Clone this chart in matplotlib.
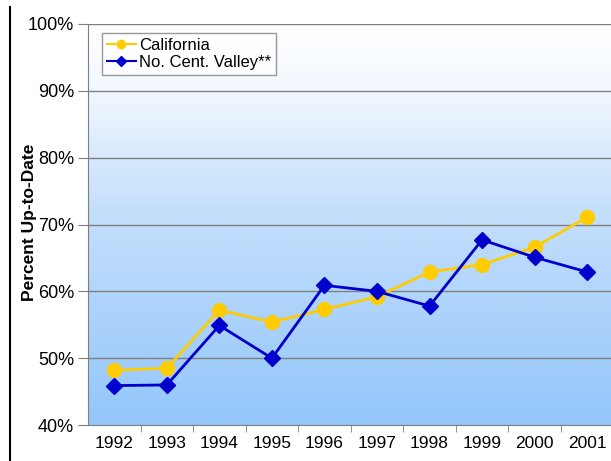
import matplotlib.pyplot as plt
import numpy as np
from matplotlib.colors import LinearSegmentedColormap
from matplotlib.lines import Line2D

plt.rcParams['font.family'] = ['Liberation Sans', 'DejaVu Sans']

years = ['1992', '1993', '1994', '1995', '1996', '1997', '1998', '1999', '2000', '2001']
california = [48.2, 48.5, 57.2, 55.4, 57.3, 59.2, 62.9, 64.0, 66.6, 71.1]
no_cent_valley = [45.9, 46.0, 54.9, 50.0, 60.9, 60.0, 57.8, 67.7, 65.1, 62.9]

fig = plt.figure(figsize=(6.11, 4.61), dpi=100)
ax = fig.add_axes([0.144, 0.078, 0.86, 0.87])

x = np.arange(len(years))
ax.set_xlim(-0.5, len(years) - 0.5)
ax.set_ylim(40, 100)

# background gradient, white at top fading to light blue at the bottom
cmap = LinearSegmentedColormap.from_list('bg', [(0.0, '#93c6fb'), (0.55, '#c6e0fb'), (0.85, '#f4f9ff'), (1.0, '#ffffff')])
grad = np.linspace(0, 1, 256).reshape(-1, 1)
ax.imshow(grad, aspect='auto', cmap=cmap, origin='lower',
          extent=(-0.5, len(years) - 0.5, 40, 100), zorder=0)

for yv in range(50, 101, 10):
    ax.axhline(yv, color='#7f7f7f', lw=1.0, zorder=1)

ax.plot(x, california, color='#ffcc00', lw=2, marker='o', ms=10, zorder=3)
ax.plot(x, no_cent_valley, color='#0000cc', lw=2, marker='D', ms=8, zorder=4)

ax.set_yticks(range(40, 101, 10))
ax.set_yticklabels([f'{v}%' for v in range(40, 101, 10)], fontsize=13)
ax.set_xticks(x)
ax.set_xticklabels(years, fontsize=12.5)
ax.set_xticks(np.arange(0.5, len(years) - 0.5, 1), minor=True)
ax.tick_params(axis='x', which='major', length=0, pad=8)
ax.tick_params(axis='x', which='minor', length=5, color='#7f7f7f')
ax.tick_params(axis='y', length=7, color='#7f7f7f', pad=3)

for side in ['top', 'right']:
    ax.spines[side].set_visible(False)
for side in ['left', 'bottom']:
    ax.spines[side].set_color('#7f7f7f')

ax.set_ylabel('Percent Up-to-Date', fontsize=12.5, fontweight='bold')
ax.yaxis.set_label_coords(-0.097, 0.505)

handles = [Line2D([], [], color='#ffcc00', marker='o', ms=6, lw=1.5),
           Line2D([], [], color='#0000cc', marker='D', ms=5, lw=1.5)]
leg = ax.legend(handles, ['California', 'No. Cent. Valley**'], loc='upper left',
                bbox_to_anchor=(0.027, 0.978), fontsize=12, fancybox=False,
                handlelength=1.7, handletextpad=0.2, borderpad=0.3,
                labelspacing=0.15, borderaxespad=0)
leg.get_frame().set_edgecolor('#7f7f7f')
leg.get_frame().set_facecolor('white')
leg.get_frame().set_linewidth(1.0)

# border line on the left side of the page
fig.add_artist(Line2D([0.017, 0.017], [0.0, 0.985], color='black', lw=1.5))

fig.savefig('out.png', dpi=100)
